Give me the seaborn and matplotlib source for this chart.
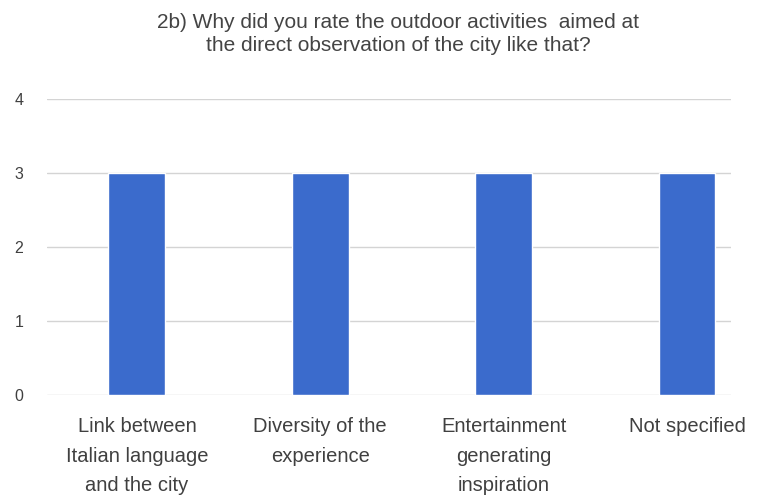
import matplotlib
matplotlib.use("Agg")
import matplotlib.pyplot as plt
import seaborn as sns
import pandas as pd

categories = [
    "Link between\nItalian language\nand the city",
    "Diversity of the\nexperience",
    "Entertainment\ngenerating\ninspiration",
    "Not specified",
]
counts = [3, 3, 3, 3]
y_ticks = [0, 1, 2, 3, 4]
title = ("2b) Why did you rate the outdoor activities  aimed at\n"
         "the direct observation of the city like that?")

df = pd.DataFrame({"reason": categories, "count": counts})

sns.set_theme(style="white")
plt.rcParams["font.family"] = ["Liberation Sans", "DejaVu Sans"]

fig = plt.figure(figsize=(7.76, 4.98), dpi=100)
ax = fig.add_axes([0.0606, 0.2068, 0.8814, 0.5944])

sns.barplot(data=df, x="reason", y="count", color="#3b6bcc", saturation=1,
            width=0.31, ax=ax, zorder=3)

ax.set_ylim(0, 4)
ax.set_xlim(-0.49, 3.24)
ax.set_yticks(y_ticks)
ax.yaxis.grid(True, color="#d4d4d4", linewidth=1.0, zorder=0)
ax.set_axisbelow(True)
for s in ax.spines.values():
    s.set_visible(False)
ax.set_xlabel("")
ax.set_ylabel("")
ax.tick_params(axis="y", length=0, pad=17, labelsize=11.5, labelcolor="#404040")
ax.tick_params(axis="x", length=0, pad=16, labelsize=14.5, labelcolor="#404040")
for lab in ax.get_xticklabels():
    lab.set_linespacing(1.7)
    lab.set_horizontalalignment("center")

fig.text(0.513, 0.974, title, ha="center", va="top", fontsize=15,
         color="#444444", linespacing=1.27)

fig.savefig("out.png", dpi=100, facecolor="white")
